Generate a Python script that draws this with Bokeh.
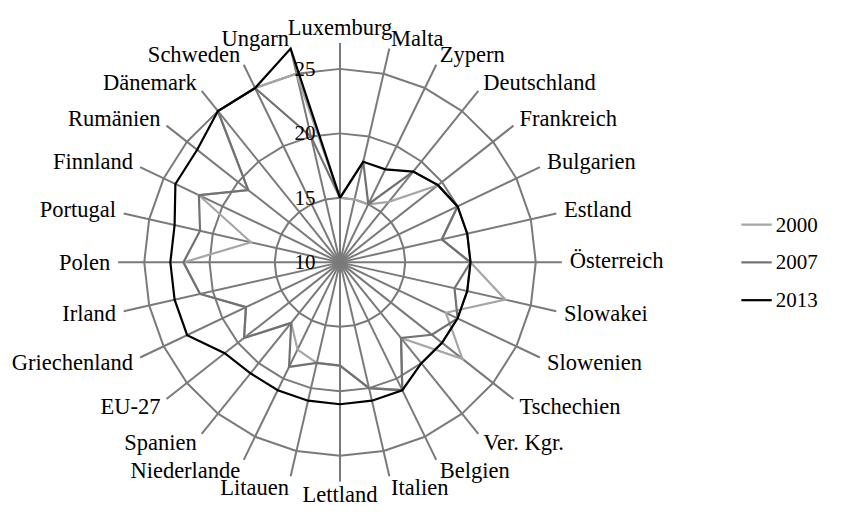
import numpy as np
from bokeh.plotting import figure
from bokeh.models import Range1d
from bokeh.embed import file_html
from bokeh.resources import INLINE
from bokeh.core.properties import value

categories = ["Luxemburg", "Malta", "Zypern", "Deutschland", "Frankreich", "Bulgarien",
              "Estland", "Österreich", "Slowakei", "Slowenien", "Tschechien", "Ver. Kgr.",
              "Belgien", "Italien", "Lettland", "Litauen", "Niederlande", "Spanien", "EU-27",
              "Griechenland", "Irland", "Polen", "Portugal", "Finnland", "Rumänien",
              "Dänemark", "Schweden", "Ungarn"]

v2000 = [15, 15, 15, 16, 19.6, 20, 18, 20, 23, 19, 22, 17.5, 21, 20, 18, 18, 17.5, 16,
         19.4, 18, 21, 22, 17, 22, 19, 25, 25, 25]
v2007 = [15, 18, 15, 19, 19.6, 20, 18, 20, 19, 20, 19, 17.5, 21, 20, 18, 18, 19, 16,
         19.4, 18, 21, 22, 21, 22, 19, 25, 25, 20]
v2013 = [15, 18, 18, 19, 19.6, 20, 20, 20, 20, 20, 20, 20, 21, 21, 21, 21, 21, 21,
         21.3, 23, 23, 23, 23, 24, 24, 25, 25, 27]

series_names = ["2000", "2007", "2013"]
tick_values = [10, 15, 20, 25]
axis_min, axis_max = 10, 27

# layout in reference-pixel coordinates (852 x 531), mapped into the figure
CX, CY = 346.0, 270.0
PX_PER_UNIT = 13.3
FONT = "Liberation Serif"
FS_CAT = "22.5px"
FS_NUM = "21px"
GRID = "#7a7a7a"
COLORS = ["#a6a6a6", "#717171", "#000000"]

W, H = 836, 515
p = figure(width=W, height=H, output_backend="svg", toolbar_location=None,
           x_range=Range1d(0, 852), y_range=Range1d(531, 0),
           min_border=0, outline_line_color=None)
p.axis.visible = False
p.grid.visible = False

n = len(categories)
ang = np.arange(n) * 2 * np.pi / n
sx, cy_ = np.sin(ang), np.cos(ang)

def radius(v):
    return (np.asarray(v, dtype=float) - axis_min) * PX_PER_UNIT

def to_xy(vals):
    r = radius(vals)
    return CX + r * sx, CY - r * cy_

# rings
for t in tick_values[1:]:
    x, y = to_xy([t] * n)
    p.line(list(x) + [x[0]], list(y) + [y[0]], line_color=GRID, line_width=2)

# spokes
xe, ye = to_xy([axis_max] * n)
p.segment(x0=[CX] * n, y0=[CY] * n, x1=xe, y1=ye, line_color=GRID, line_width=2)

# series
for vals, col in zip([v2000, v2007, v2013], COLORS):
    x, y = to_xy(vals)
    p.line(list(x) + [x[0]], list(y) + [y[0]], line_color=col, line_width=2.2,
           line_join="miter")

# tick labels
tx = [CX - 25] * len(tick_values)
ty = [CY - float(radius(t)) for t in tick_values]
p.text(tx, ty, text=[str(t) for t in tick_values], text_align="right",
       text_baseline="middle", text_font=value(FONT), text_font_size=FS_NUM,
       text_color="#000000")

# category labels
for i, name in enumerate(categories):
    s, c = sx[i], cy_[i]
    ex, ey = xe[i], ye[i]
    if abs(s) < 0.05:
        if c > 0:
            p.text([ex], [ey - 16], text=[name], text_align="center", text_baseline="alphabetic",
                   text_font=value(FONT), text_font_size=FS_CAT)
        else:
            p.text([ex], [ey + 13], text=[name], text_align="center", text_baseline="alphabetic",
                   text_font=value(FONT), text_font_size=FS_CAT)
        continue
    align = "left" if s > 0 else "right"
    lx = ex + 8 * s
    ly = ey - 9 * c - 2 if c > 0 else ey - 12 * c
    p.text([lx], [ly], text=[name], text_align=align, text_baseline="middle",
           text_font=value(FONT), text_font_size=FS_CAT)

# legend
leg_y = [231, 270, 309]
p.segment(x0=[755] * 3, y0=leg_y, x1=[786] * 3, y1=leg_y, line_color=COLORS, line_width=2.2)
p.text([790] * 3, leg_y, text=series_names, text_align="left", text_baseline="middle",
       text_font=value(FONT), text_font_size=FS_NUM)

open("out.html", "w").write(file_html(p, INLINE))
